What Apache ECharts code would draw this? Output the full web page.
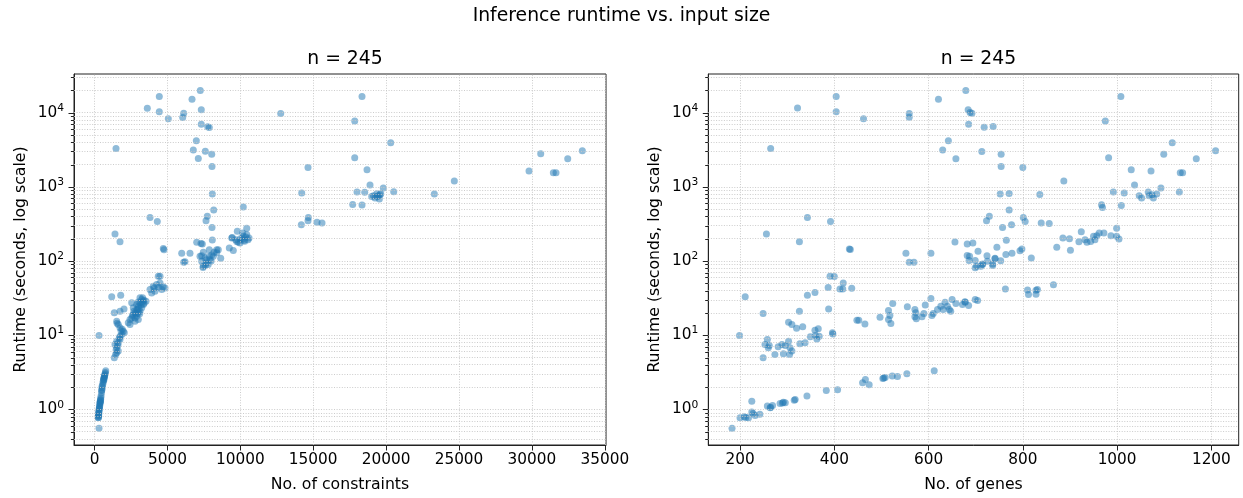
<!DOCTYPE html>
<html><head><meta charset="utf-8">
<script src="https://cdn.jsdelivr.net/npm/echarts@6/dist/echarts.min.js"></script>
<style>html,body{margin:0;padding:0;background:#fff}#c{width:1243px;height:498px}</style>
</head><body><div id="c"></div><script>
const FONT = 'DejaVu Sans';
const constraintTicks = [0, 5000, 10000, 15000, 20000, 25000, 30000, 35000];
const geneTicks = [200, 400, 600, 800, 1000, 1200];
const runtimeMajorTicks = [1, 10, 100, 1000, 10000];
const runtimeMinorTicks = [0.4,0.5,0.6,0.7,0.8,0.9, 2,3,4,5,6,7,8,9, 20,30,40,50,60,70,80,90,
  200,300,400,500,600,700,800,900, 2000,3000,4000,5000,6000,7000,8000,9000, 20000,30000];
const constraintRange = [-1406, 35082];
const geneRange = [132.7, 1258];
const runtimeRange = [0.331, 33200];

// [No. of constraints, runtime seconds]
const byConstraints = [
[4445,16480],[7257,19830],[3622,11500],[6688,15200],[4445,10250],[6118,9840],[6050,8590],[5062,8260],[7325,10910],[12771,9730],
[7325,7000],[7764,6440],[7874,6300],[6983,4170],[1475,3290],[6777,3130],[7600,3030],[8039,2760],[7120,2410],[8059,1880],
[14644,1825],[8080,800],[14212,826],[10206,535],[8176,487],[7737,400],[7648,350],[3807,387],[4307,342],[14665,387],
[14185,309],[14644,350],[15261,332],[15604,326],[8059,284],[1406,232],[1749,182],[4719,147],[4767,142],[5981,127],
[6550,127],[6118,96],[6207,98],[7010,179],[7305,172],[7394,170],[8080,192],[8382,142],[8197,131],[8039,121],
[8656,109],[7463,131],[7353,118],[7579,110],[7696,104],[7874,116],[7922,104],[7236,116],[7463,85],[7353,99],
[7696,94],[8149,116],[8382,129],[8491,142],[7874,142],[7442,82],[7600,88],[7800,90],[8000,100],
[9795,251],[10440,276],[9452,208],[10165,239],[9411,205],[9685,194],[9863,179],[9980,175],[10206,215],[10440,227],
[10597,205],[10371,211],[9754,184],[9246,150],[9520,139],[10137,198],[10529,194],[10254,190],[10000,200],[10300,185],
[18348,16480],[17847,7690],[20316,3920],[17847,2465],[18691,1700],[18896,1057],[19809,964],[18005,851],[18533,845],[20522,859],
[19013,743],[19129,759],[19356,808],[19470,759],[19583,783],[19536,685],[19240,707],[19397,743],[19631,808],[17710,580],
[18348,569],[23307,800],[24679,1197],[29802,1632],[30605,2790],[31470,1549],[31654,1549],[32457,2390],[33458,3060],
[309,0.555],[255,0.77],[265,0.80],[275,0.78],[280,0.83],[290,0.86],[300,0.92],[310,0.95],[330,1.03],[340,1.05],
[350,1.11],[360,1.13],[375,1.2],[385,1.23],[390,1.25],[400,1.29],[410,1.33],[420,1.36],[450,1.51],[490,1.79],
[505,1.84],[560,2.15],[590,2.29],[620,2.53],[640,2.61],[660,2.70],[680,2.78],[690,2.81],[730,3.02],[770,3.32],
[480,1.68],[530,1.95],[600,2.4],[700,2.9],[745,3.15],[270,0.88],[320,1.0],[430,1.42],[520,2.05],[650,2.5],[309,9.9],
[1358,4.97],[1523,5.8],[1406,7.5],[1633,7.9],[1749,8.75],[1523,8.3],[1866,10.2],[1975,11.3],[1749,12.6],[1633,13.9],
[1523,15.4],[2044,10.8],[1358,20],[1180,32.9],[1797,34.5],[1749,21],[2023,22.6],[1523,6.8],[1633,6.1],[1749,9.7],
[1450,5.5],[1600,7.3],[1700,9.2],[1900,12],[1550,14.5],[1480,6.3],[1820,11.5],
[2318,14.7],[2435,16.3],[2552,17.1],[2661,19],[2778,20],[2894,22.2],[3004,24.6],[3121,27.3],[3237,30.2],[3395,29.6],
[3532,28.7],[2778,17.1],[2894,18],[3004,20],[3121,21],[3237,23.4],[3350,25.9],[2661,23.4],[2552,27.3],[2894,25.9],
[3121,31.9],[2778,15.4],[2435,13.9],[3004,16.3],[3300,31.9],[3000,28],[3200,26],[2700,21],[2950,22],[3100,19.5],
[3400,27],[2600,18.5],[2850,19.5],[3050,23],[3300,28.5],
[3807,41.2],[4033,45.7],[4376,62.3],[4493,50.7],[4266,48.1],[4836,43.4],[4609,41.2],[3923,37.2],[4150,39.1],[4100,43.4],
[4493,62.3],[4400,44],[4700,45]
];

// [No. of genes, runtime seconds]
const byGenes = [
[404,16480],[621,15200],[679,19830],[322,11600],[404,10250],[559,9730],[559,8700],[462,8260],[684,10910],[688,10030],
[685,7000],[692,9840],[642,4170],[630,3130],[658,2390],[265,3290],[718,6380],[737,6500],[713,2997],[754,2760],
[754,1880],[800,1825],[887,1197],[975,7690],[1008,16480],[982,2465],[1117,3920],[1099,2760],[1168,2390],[1209,3060],
[1030,1700],[1072,1632],[1134,1549],[1139,1549],[1037,1057],[1093,964],[1066,851],[1074,783],[1077,707],[1084,800],
[1047,759],[1052,707],[1068,759],[992,851],[1015,826],[1132,851],[967,574],[969,528],[1009,560],[752,800],
[771,812],[836,790],[729,400],[723,350],[771,487],[801,387],[805,342],[757,284],[776,309],[839,326],
[856,320],[765,190],[682,170],[694,175],[656,181],[705,135],[745,153],[777,127],[794,138],[798,145],
[818,110],[872,153],[885,205],[899,200],[924,249],[901,140],[919,182],[932,194],[936,179],[950,215],
[957,219],[962,239],[972,239],[987,219],[999,276],[999,215],[1004,198],[953,194],[944,184],
[682,119],[687,116],[699,102],[724,118],[741,109],[764,122],[753,101],[736,91],[714,90],[702,85],
[699,81],[711,85],[725,99],[736,87],[741,107],[715,91],
[343,387],[392,342],[256,232],[326,182],[432,145],[434,143],[552,127],[605,127],[559,96],[569,96],[686,102],
[677,28.2],[685,25.1],[699,30.2],[704,29.3],[763,42.1],[810,40.8],[812,35.3],[828,40.3],[828,35.6],[831,41.2],[865,47.7],
[211,32.9],[199,9.9],[249,19.6],[326,21],[343,34.5],[359,37.6],[387,43.9],[391,62.3],[400,61.7],[419,50.7],
[412,42.1],[418,42.1],[437,42.9],[388,22.6],[303,15],[310,13.9],[320,12.4],[333,13],[349,9.5],[359,11.7],
[366,12.2],[363,8.9],[360,9.9],[368,9.7],[327,7.66],[338,7.9],[396,10.8],[397,10.4],[253,7.5],[258,8.75],
[262,7.27],[260,6.77],[281,6.98],[292,5.62],[274,5.5],[303,8.3],[296,7.27],[306,6.77],[310,6.1],[305,5.5],
[249,4.97],[289,7.5],
[448,15.9],[452,15.9],[465,14.2],[497,17.5],[515,21.5],[518,18.4],[515,16.3],[520,14.4],[524,26.7],[555,24.1],
[571,22.2],[573,20],[571,17.7],[574,16.6],[586,17.7],[590,19.6],[593,25.6],[605,31.2],[610,19.6],[607,18.4],
[619,22.2],[626,24.6],[635,27.8],[640,24.6],[644,22.2],[650,30.2],[658,26.7],[647,21.1],[631,22.2],[678,27.8],
[672,25.9],
[183,0.555],[200,0.773],[209,0.798],[218,0.773],[225,0.92],[232,0.83],[242,0.857],[225,1.29],[258,1.11],[264,1.05],
[269,1.13],[285,1.20],[292,1.25],[296,1.23],[317,1.36],[315,1.33],[342,1.51],[383,1.79],[407,1.84],[460,2.29],
[466,2.53],[474,2.15],[503,2.61],[508,2.70],[523,2.81],[534,2.78],[554,3.02],[612,3.32],
[212,0.78],[228,0.88],[265,1.07],[290,1.22],[505,2.65]
];

const chart = echarts.init(document.getElementById('c'), null, {renderer: 'canvas'});
const TXT = {fontFamily: FONT, color: '#000'};
const TICK_FS = 15.3, LABEL_FS = 15.7, TITLE_FS = 18.8;
const gridLine = {color: '#c6c6c6', width: 0.9, type: [1, 1.6]};

function xAxisDef(idx, range, ticks, name) {
  return {type: 'value', gridIndex: idx, min: range[0], max: range[1],
    axisLine: {show: true, onZero: false, lineStyle: {color: '#222', width: 1}},
    axisTick: {show: true, length: 5.5, lineStyle: {color: '#222', width: 1}, customValues: ticks},
    axisLabel: Object.assign({fontSize: TICK_FS, margin: 8, customValues: ticks,
      formatter: function (v) { return String(v); }}, TXT),
    splitLine: {show: false},
    name: name, nameLocation: 'middle', nameGap: 32,
    nameTextStyle: Object.assign({fontSize: LABEL_FS}, TXT)};
}
function yAxisDef(idx) {
  return {type: 'log', logBase: 10, gridIndex: idx, min: runtimeRange[0], max: runtimeRange[1],
    axisLine: {show: true, onZero: false, lineStyle: {color: '#222', width: 1}},
    axisTick: {show: false},
    axisLabel: Object.assign({margin: 10, showMinLabel: false, showMaxLabel: false,
      formatter: function (v) {
        const e = Math.log10(v);
        if (Math.abs(e - Math.round(e)) > 1e-6) return '';
        return '{b|10}{s|' + Math.round(e) + '}';
      },
      rich: {b: {fontFamily: FONT, fontSize: TICK_FS, lineHeight: 20, color: '#000'},
             s: {fontFamily: FONT, fontSize: 10.7, lineHeight: 11, verticalAlign: 'top', color: '#000'}}}, TXT),
    splitLine: {show: false},
    name: 'Runtime (seconds, log scale)', nameLocation: 'middle', nameGap: 45, nameRotate: 90,
    nameTextStyle: Object.assign({fontSize: LABEL_FS}, TXT)};
}
function gridSeries(idx, xTicks) {
  const lines = xTicks.map(v => ({xAxis: v}))
    .concat(runtimeMajorTicks.concat(runtimeMinorTicks).map(v => ({yAxis: v})));
  return {type: 'scatter', xAxisIndex: idx, yAxisIndex: idx, data: [], silent: true, z: 1,
    markLine: {silent: true, symbol: 'none', animation: false, label: {show: false},
      emphasis: {disabled: true}, lineStyle: gridLine, data: lines}};
}
function yTickSeries(idx, xmin) {
  const data = runtimeMajorTicks.map(v => [xmin, v, 5.5]).concat(runtimeMinorTicks.map(v => [xmin, v, 3.1]));
  return {type: 'custom', xAxisIndex: idx, yAxisIndex: idx, clip: false, silent: true, z: 5, data: data,
    renderItem: function (params, api) {
      const p = api.coord([api.value(0), api.value(1)]);
      const len = api.value(2);
      const y = Math.round(p[1]) + 0.5;
      return {type: 'line', shape: {x1: p[0] - len, y1: y, x2: p[0], y2: y},
        style: {stroke: '#222', lineWidth: 1}};
    }};
}
function pointSeries(idx, data) {
  return {type: 'scatter', xAxisIndex: idx, yAxisIndex: idx, data: data, z: 3,
    symbol: 'circle', symbolSize: 7,
    itemStyle: {color: '#1f77b4', opacity: 0.5, borderWidth: 0}};
}

chart.setOption({
  animation: false,
  backgroundColor: '#fff',
  title: [
    {text: 'Inference runtime vs. input size', left: 'center', top: 2,
      textStyle: {fontFamily: FONT, fontSize: TITLE_FS, fontWeight: 'normal', color: '#000'}},
    {text: 'n = 245', left: 340, top: 45, textAlign: 'center',
      textStyle: {fontFamily: FONT, fontSize: TITLE_FS, fontWeight: 'normal', color: '#000'}},
    {text: 'n = 245', left: 973.5, top: 45, textAlign: 'center',
      textStyle: {fontFamily: FONT, fontSize: TITLE_FS, fontWeight: 'normal', color: '#000'}}
  ],
  grid: [
    {left: 74, top: 74, width: 532, height: 371.7, show: true, borderColor: '#222', borderWidth: 1, backgroundColor: 'transparent'},
    {left: 708.3, top: 74, width: 530.4, height: 371.7, show: true, borderColor: '#222', borderWidth: 1, backgroundColor: 'transparent'}
  ],
  xAxis: [xAxisDef(0, constraintRange, constraintTicks, 'No. of constraints'),
          xAxisDef(1, geneRange, geneTicks, 'No. of genes')],
  yAxis: [yAxisDef(0), yAxisDef(1)],
  series: [gridSeries(0, constraintTicks), gridSeries(1, geneTicks),
           yTickSeries(0, constraintRange[0]), yTickSeries(1, geneRange[0]),
           pointSeries(0, byConstraints), pointSeries(1, byGenes)]
});
</script></body></html>
